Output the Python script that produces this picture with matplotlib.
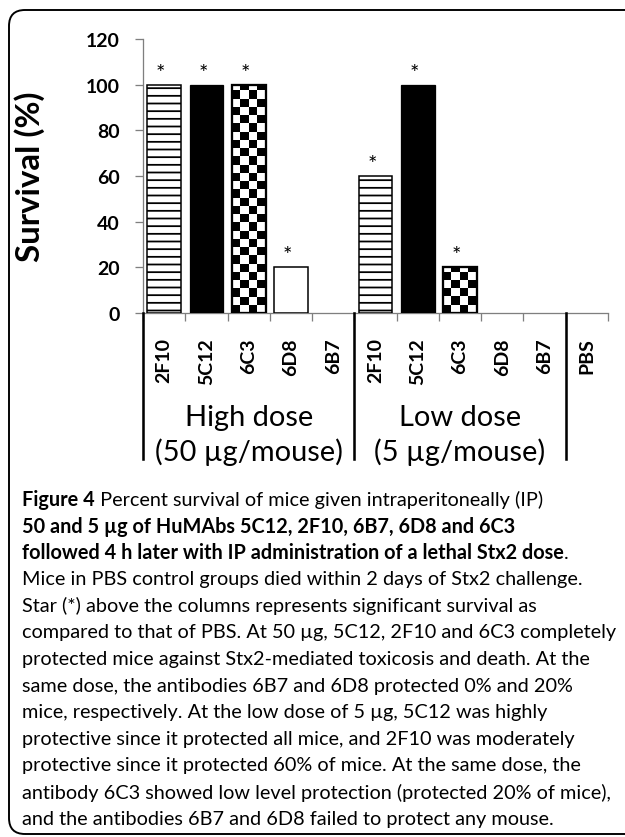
import numpy as np
import matplotlib.pyplot as plt
from matplotlib.patches import FancyBboxPatch

# data
antibodies = ["2F10", "5C12", "6C3", "6D8", "6B7",
              "2F10", "5C12", "6C3", "6D8", "6B7", "PBS"]
survival = [100, 100, 100, 20, 0, 60, 100, 20, 0, 0, 0]
significant = [1, 1, 1, 1, 0, 1, 1, 1, 0, 0, 0]
fills = ["stripe", "solid", "check", "open", "open",
         "stripe", "solid", "check", "open", "open", "open"]
group_names = ["High dose", "Low dose"]
group_doses = ["(50 µg/mouse)", "(5 µg/mouse)"]
group_first = [0, 5]
group_last = [4, 9]
yticks = [0, 20, 40, 60, 80, 100, 120]

caption = [
    [("Figure 4", "bold"), (" Percent survival of mice given intraperitoneally (IP)", "normal")],
    [("50 and 5 µg of HuMAbs 5C12, 2F10, 6B7, 6D8 and 6C3", "bold")],
    [("followed 4 h later with IP administration of a lethal Stx2 dose", "bold"), (".", "normal")],
    [("Mice in PBS control groups died within 2 days of Stx2 challenge.", "normal")],
    [("Star (*) above the columns represents significant survival as", "normal")],
    [("compared to that of PBS. At 50 µg, 5C12, 2F10 and 6C3 completely", "normal")],
    [("protected mice against Stx2-mediated toxicosis and death. At the", "normal")],
    [("same dose, the antibodies 6B7 and 6D8 protected 0% and 20%", "normal")],
    [("mice, respectively. At the low dose of 5 µg, 5C12 was highly", "normal")],
    [("protective since it protected all mice, and 2F10 was moderately", "normal")],
    [("protective since it protected 60% of mice. At the same dose, the", "normal")],
    [("antibody 6C3 showed low level protection (protected 20% of mice),", "normal")],
    [("and the antibodies 6B7 and 6D8 failed to protect any mouse.", "normal")],
]

DPI = 92
W, H = 625, 838
plt.rcParams['font.family'] = ['Lato', 'DejaVu Sans']
plt.rcParams['hatch.linewidth'] = 1.4


def pt(px):
    return px * 72.0 / DPI


fig = plt.figure(figsize=(W / DPI, H / DPI), dpi=DPI)
fig.patch.set_facecolor("white")

# plot area (pixels): x 143..608, y 40..314
ax = fig.add_axes([143 / W, 1 - 314 / H, 465 / W, 274 / H])
x = np.arange(len(antibodies))

for i in range(len(antibodies)):
    f = fills[i]
    if survival[i] == 0:
        continue
    if f == "solid":
        ax.bar(x[i], survival[i], 0.8, color="black", edgecolor="black", lw=1.0, zorder=3)
    elif f == "stripe":
        ax.bar(x[i], survival[i], 0.8, color="white", edgecolor="black", hatch="--", lw=1.2, zorder=3)
    elif f == "check":
        b = ax.bar(x[i], survival[i], 0.8, color="white", edgecolor="black", lw=1.8, zorder=4)[0]
        b.set_facecolor("none")
        x0, w, h = b.get_x(), b.get_width(), b.get_height()
        ncol = 4
        nrow = int(np.ceil(h / 3.6))
        cells = (np.indices((nrow, ncol)).sum(axis=0) % 2).astype(float)
        im = ax.imshow(cells, cmap="gray", interpolation="nearest", aspect="auto",
                       extent=(x0, x0 + w, nrow * 3.6, 0), origin="upper", zorder=3)
        im.set_clip_path(b)
    else:
        ax.bar(x[i], survival[i], 0.8, color="white", edgecolor="black", lw=1.2, zorder=3)

for i in range(len(antibodies)):
    if significant[i]:
        ax.text(x[i] - 0.08, survival[i] + 5.2, "*", ha="center", va="center",
                fontsize=pt(22), color="black")

ax.set_xlim(-0.5, len(antibodies) - 0.5)
ax.set_ylim(0, 120)
ax.set_yticks(yticks)
ax.set_yticklabels([str(v) for v in yticks], fontsize=pt(19.5), fontweight="bold")
ax.tick_params(axis="y", direction="out", length=pt(8), width=1, color="#7f7f7f", pad=pt(15))

ax.set_xticks(x)
ax.set_xticklabels(antibodies, rotation=90, fontsize=pt(19.5), fontweight="bold")
ax.tick_params(axis="x", which="major", length=0, pad=pt(24))
ax.set_xticks(np.arange(-0.5, len(antibodies)), minor=True)
ax.tick_params(axis="x", which="minor", direction="out", length=pt(8), width=1, color="#7f7f7f")

for s in ["top", "right"]:
    ax.spines[s].set_visible(False)
for s in ["left", "bottom"]:
    ax.spines[s].set_color("#7f7f7f")
    ax.spines[s].set_linewidth(1)

ax.set_ylabel("Survival (%)", fontsize=pt(33), fontweight="bold")
ax.yaxis.set_label_coords(-98 / 465, 0.5)

# group separators and labels below the axis
for xb in [-0.5, 4.5, 9.5]:
    ax.plot([xb, xb], [0, -146 / 274 * 120], color="black", lw=2, clip_on=False, zorder=5)
for g in range(len(group_names)):
    xc = (group_first[g] + group_last[g]) / 2
    ax.text(xc, -(418 - 314) / 274 * 120, group_names[g], ha="center", va="center",
            fontsize=pt(29), clip_on=False)
    ax.text(xc, -(452 - 314) / 274 * 120, group_doses[g], ha="center", va="center",
            fontsize=pt(29), clip_on=False)

# rounded frame around figure + caption
frame = FancyBboxPatch((9 / DPI, 3 / DPI), 660 / DPI, (H - 11 - 3) / DPI,
                       boxstyle="round,pad=0,rounding_size=%f" % (16 / DPI),
                       transform=fig.dpi_scale_trans, facecolor="none",
                       edgecolor="black", lw=1.5, clip_on=False)
fig.patches.append(frame)

# caption
renderer = fig.canvas.get_renderer()
probe = fig.text(0, 0, caption[5][0][0], fontsize=10)
wref = probe.get_window_extent(renderer).width
probe.remove()
cap_size = 10 * 590 / wref

y0 = 500
for k, line in enumerate(caption):
    xpx = 22
    ypx = y0 + k * 26.6
    for txt, wt in line:
        t = fig.text(xpx / W, 1 - ypx / H, txt, fontsize=cap_size, fontweight=wt,
                     ha="left", va="center")
        xpx += t.get_window_extent(renderer).width

fig.savefig("out.png", dpi=DPI)
